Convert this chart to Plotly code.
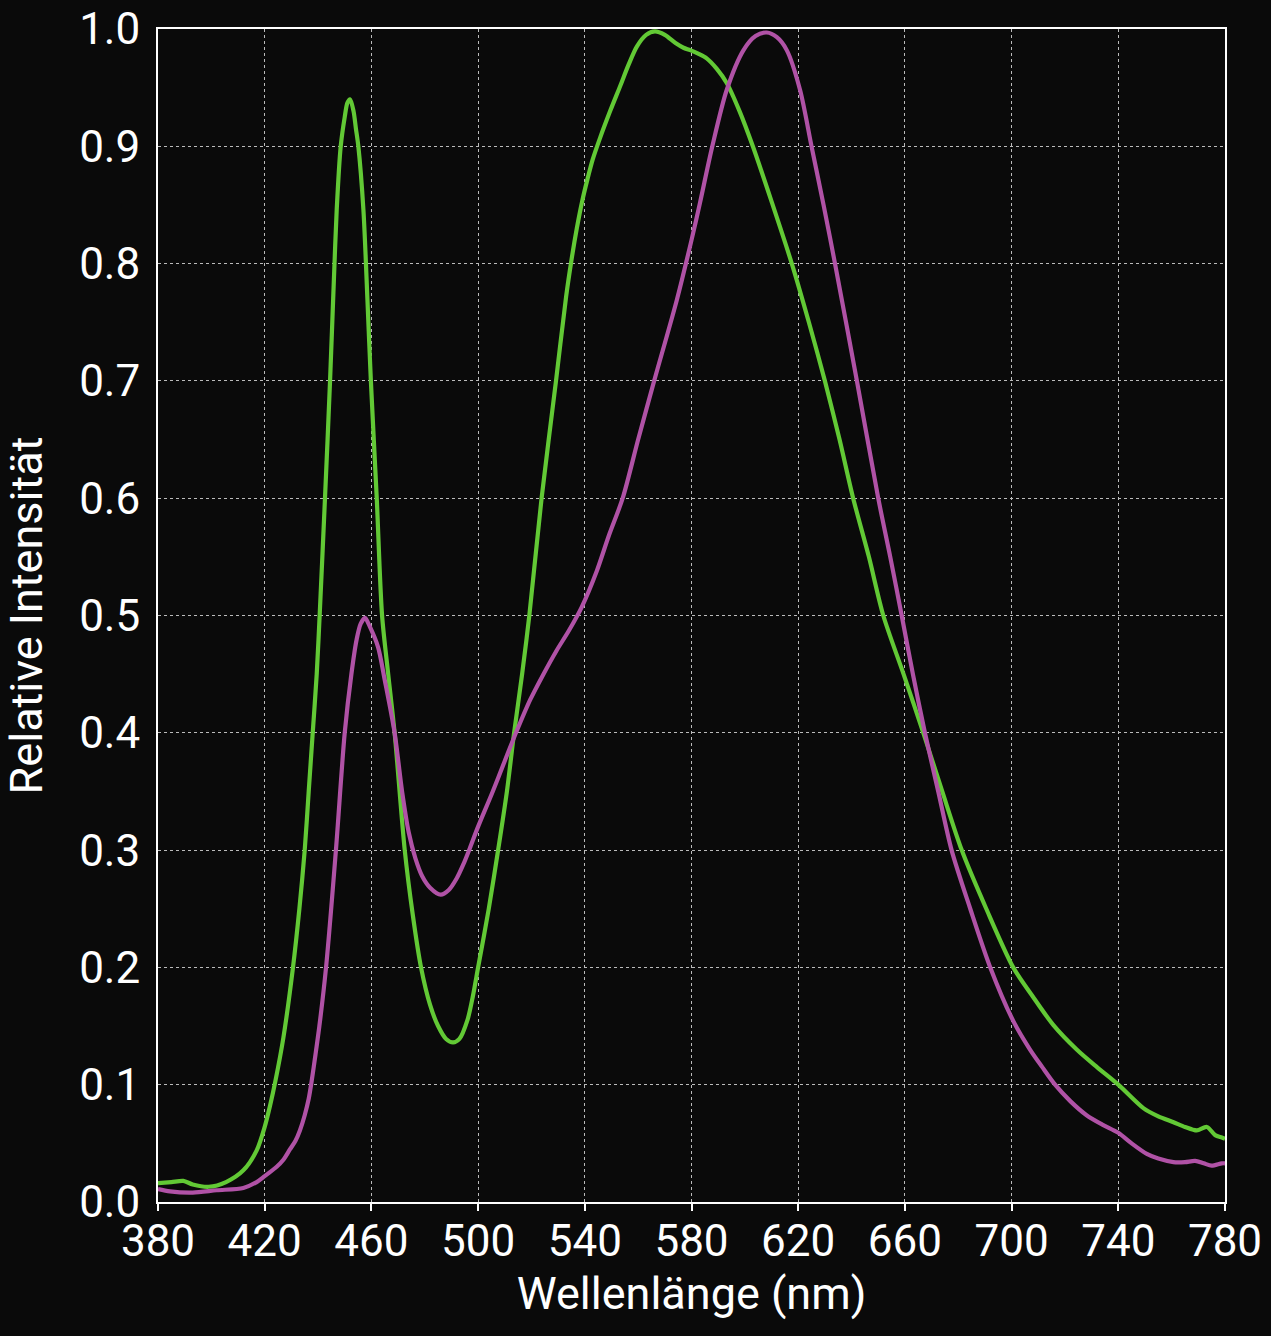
import plotly.graph_objects as go

# Green spectrum (wavelength nm, relative intensity)
green_nm = [380, 385, 389.5, 393, 399, 405.5, 412, 417, 420, 422, 424, 427, 430.6, 433, 435,
            436.5, 438, 439.5, 440.6, 442.6, 444.5, 446, 447, 448.5, 450, 451, 452, 453.3,
            454.2, 455.1, 457, 458.5, 459.8, 462, 464, 466.3, 468.7, 472.5, 475.5, 478.6,
            482, 485, 488, 490.6, 493, 496, 498, 500, 504, 507.5, 510.8, 513.5, 516.5,
            519.2, 523.8, 529.2, 533, 535, 537, 539, 541, 543, 545.7, 549.5, 553.2, 556.5,
            559.5, 563, 566.3, 570, 574, 577, 579.5, 582.5, 585.7, 589.5, 593.2, 598, 603,
            610, 617.6, 624, 630, 635.5, 640.6, 646.5, 651.9, 659.5, 666.9, 674, 681.3,
            690.5, 700.6, 708, 715.6, 724.4, 732, 740, 749.4, 755, 760.7, 765, 769.4,
            773.2, 776.3, 778.8, 780]
green_val = [0.016, 0.017, 0.018, 0.015, 0.013, 0.017, 0.027, 0.044, 0.064, 0.082, 0.103,
             0.14, 0.2, 0.25, 0.3, 0.35, 0.4, 0.45, 0.5, 0.6, 0.7, 0.79, 0.846, 0.9, 0.925,
             0.937, 0.94, 0.93, 0.915, 0.9, 0.846, 0.77, 0.7, 0.6, 0.5, 0.45, 0.4, 0.3,
             0.245, 0.2, 0.168, 0.15, 0.139, 0.136, 0.139, 0.155, 0.175, 0.2, 0.25, 0.3,
             0.35, 0.4, 0.45, 0.5, 0.6, 0.7, 0.772, 0.803, 0.83, 0.853, 0.872, 0.889, 0.907,
             0.93, 0.951, 0.97, 0.985, 0.995, 0.998, 0.995, 0.988, 0.984, 0.982, 0.979,
             0.975, 0.966, 0.954, 0.93, 0.9, 0.853, 0.8, 0.75, 0.7, 0.65, 0.6, 0.55, 0.5,
             0.45, 0.4, 0.35, 0.3, 0.25, 0.2, 0.175, 0.151, 0.13, 0.115, 0.1, 0.08, 0.073,
             0.068, 0.064, 0.061, 0.064, 0.057, 0.055, 0.054]

# Magenta spectrum
magenta_nm = [380, 384.5, 393, 402, 412, 417, 420, 424.5, 427, 429.5, 431.5, 433.2, 435,
              436.5, 437.6, 439, 440.5, 443, 446.7, 450, 452.5, 454.5, 456, 457.6, 459.5,
              462.5, 465, 468.7, 471.5, 474, 476.5, 479, 482, 486, 489, 492, 494.5, 496.8,
              500, 505.5, 510, 514.2, 519.5, 524.5, 529.4, 534, 538.8, 544.5, 549, 554.2,
              560, 566, 574.5, 580, 583.2, 587.8, 593.2, 599.5, 604, 608.2, 612, 615.7,
              620.7, 625, 629.5, 633.8, 642, 650, 654.5, 658.8, 663, 667.5, 672.5, 677.5,
              684.5, 692, 700.7, 706.9, 711.5, 716.3, 722, 728.1, 734, 740, 745, 750.7, 755,
              760.7, 765, 768.8, 772, 775, 778.8, 780]
magenta_val = [0.011, 0.009, 0.008, 0.01, 0.012, 0.017, 0.022, 0.03, 0.036, 0.045, 0.052,
               0.061, 0.074, 0.088, 0.103, 0.125, 0.15, 0.2, 0.3, 0.4, 0.45, 0.48, 0.493,
               0.498, 0.49, 0.473, 0.445, 0.4, 0.35, 0.315, 0.293, 0.278, 0.268, 0.262,
               0.266, 0.276, 0.288, 0.301, 0.32, 0.35, 0.376, 0.4, 0.428, 0.45, 0.47, 0.487,
               0.507, 0.538, 0.568, 0.6, 0.65, 0.7, 0.769, 0.82, 0.852, 0.9, 0.948, 0.982,
               0.994, 0.997, 0.993, 0.982, 0.948, 0.9, 0.85, 0.8, 0.7, 0.6, 0.55, 0.5, 0.45,
               0.4, 0.35, 0.3, 0.25, 0.2, 0.154, 0.13, 0.115, 0.1, 0.086, 0.074, 0.066,
               0.059, 0.05, 0.041, 0.037, 0.034, 0.034, 0.035, 0.033, 0.031, 0.033, 0.033]

x_ticks = [380, 420, 460, 500, 540, 580, 620, 660, 700, 740, 780]
y_ticks = [0.0, 0.1, 0.2, 0.3, 0.4, 0.5, 0.6, 0.7, 0.8, 0.9, 1.0]

BG = "#0a0a0a"
fig = go.Figure()
fig.add_trace(go.Scatter(x=green_nm, y=green_val, mode="lines",
                         line=dict(color="#62c935", width=4.2, shape="spline", smoothing=0.8),
                         showlegend=False))
fig.add_trace(go.Scatter(x=magenta_nm, y=magenta_val, mode="lines",
                         line=dict(color="#b052a6", width=4.2, shape="spline", smoothing=0.8),
                         showlegend=False))

fig.update_layout(
    width=1271, height=1336,
    paper_bgcolor=BG, plot_bgcolor=BG,
    margin=dict(l=158, r=46, t=29, b=134),
    font=dict(family="Roboto", color="white", size=44),
)
fig.update_xaxes(
    range=[380, 780], tickvals=x_ticks, ticktext=[str(v) for v in x_ticks],
    showline=True, linecolor="white", linewidth=2, mirror=True, automargin=False,
    ticks="outside", ticklen=7, tickwidth=2, tickcolor="white",
    showgrid=True, gridcolor="#bbbbbb", griddash="dot", gridwidth=1,
    zeroline=False, tickfont=dict(size=44, family="Roboto", color="white"),
    ticklabelstandoff=-8,
    title=dict(text="Wellenlänge (nm)", font=dict(size=45, family="Roboto", color="white"), standoff=7),
)
fig.update_yaxes(
    range=[0, 1], tickvals=y_ticks, ticktext=[f"{v:.1f}" for v in y_ticks],
    showline=True, linecolor="white", linewidth=2, mirror=True, automargin=False,
    ticks="", showgrid=True, gridcolor="#bbbbbb", griddash="dot", gridwidth=1,
    zeroline=False, tickfont=dict(size=44, family="Roboto", color="white"),
    ticklabelstandoff=7,
    title=dict(text="Relative Intensität", font=dict(size=45, family="Roboto", color="white"), standoff=24),
)
fig.write_html("out.html", config={"displayModeBar": False},
               post_script="document.body.style.margin='0';document.body.style.background='#0a0a0a';")
